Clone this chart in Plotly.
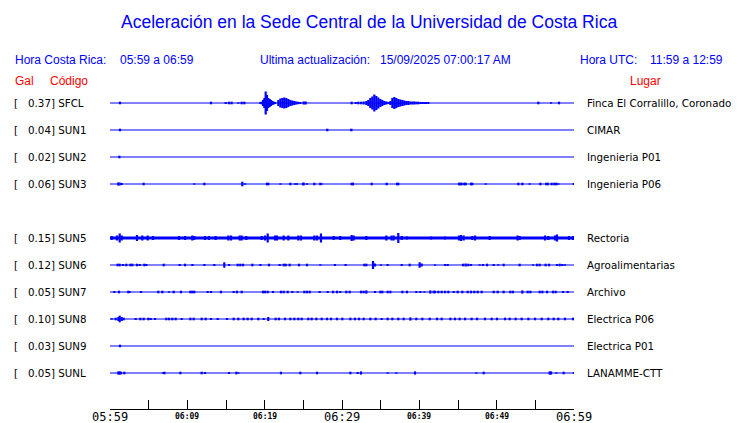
import plotly.graph_objects as go

# ---------------- data ----------------
TITLE = "Aceleración en la Sede Central de la Universidad de Costa Rica"
HORA_CR = "05:59 a 06:59"
HORA_UTC = "11:59 a 12:59"
ACTUALIZACION = "15/09/2025 07:00:17 AM"

# time axis: minutes after 05:59
SPAN_MIN = 60
TICK_STEP_MIN = 5
TICK_MIN = [0, 10, 20, 30, 40, 50, 60]
TICK_TEXT = ["05:59", "06:09", "06:19", "06:29", "06:39", "06:49", "06:59"]
TICK_MAJOR = [True, False, False, True, False, False, True]

CODES = ["SFCL", "SUN1", "SUN2", "SUN3", "SUN4", "SUN5", "SUN6", "SUN7", "SUN8", "SUN9", "SUNL"]
PGA_GAL = [0.37, 0.04, 0.02, 0.06, None, 0.15, 0.12, 0.05, 0.10, 0.03, 0.05]
LUGAR = ["Finca El Corralillo, Coronado", "CIMAR", "Ingenieria P01", "Ingenieria P06", None,
         "Rectoria", "Agroalimentarias", "Archivo", "Electrica P06", "Electrica P01", "LANAMME-CTT"]
# background noise level (relative amplitude)
NOISE = [0.4, 0.4, 0.4, 0.4, None, 1.5, 0.4, 0.4, 0.4, 0.4, 0.4]

# (minute, relative amplitude) of trace excursions
SFCL = [(1.29, 1.3), (13.06, 1.3), (14.96, 1), (15.39, 1.3), (15.73, 1.3), (16.59, 0.7), (17.03, 1.3),
        (17.37, 1.3), (19.44, 1), (19.61, 1.3),
        (19.78, 3), (19.96, 5), (20.13, 11.5), (20.30, 8), (20.47, 5), (20.65, 4), (20.82, 3), (20.99, 2),
        (21.16, 1.5), (21.34, 1),
        (21.77, 3), (22.03, 4.5), (22.29, 5), (22.54, 5.5), (22.80, 5), (23.06, 4), (23.32, 3), (23.58, 2.5),
        (23.84, 2), (24.09, 1.5), (24.35, 1.2), (24.61, 1), (25.04, 1.5), (25.30, 1.5),
        (31.25, 1.3), (31.77, 1), (32.11, 1.3), (32.46, 1.3), (32.80, 1.5), (33.15, 2),
        (33.40, 3), (33.66, 5), (33.92, 6.5), (34.18, 8.5), (34.44, 7), (34.70, 5.5), (34.96, 4), (35.21, 3),
        (35.47, 2), (35.73, 1.5), (35.99, 1),
        (36.25, 2), (36.51, 5), (36.77, 6), (37.02, 5), (37.28, 4), (37.54, 3.5), (37.80, 3), (38.06, 2.5),
        (38.32, 2), (38.58, 2), (38.84, 1.5), (39.10, 1.5), (39.35, 1.5), (39.61, 1.3), (39.87, 1.3),
        (40.13, 1), (40.39, 1), (40.65, 1), (40.90, 1), (41.16, 1),
        (55.39, 1.3), (57.03, 0.7), (58.06, 1.3)]
SUN1 = [(1.29, 1.3), (28.10, 1.3), (31.21, 1.3)]
SUN2 = [(1.21, 1.3)]
SUN3 = [(1.08, 1.7), (1.34, 1.3), (1.51, 1.0), (4.35, 1.3), (10.90, 0.7), (12.20, 1.3), (17.11, 2.3),
        (17.46, 0.7), (20.30, 1.3), (20.47, 1.3), (22.03, 0.7), (23.32, 1.3), (23.92, 0.7), (24.18, 0.7),
        (24.96, 1.3), (25.05, 1.3), (25.47, 0.7), (26.42, 1.3), (27.20, 1.3), (27.37, 0.7), (31.25, 1.3),
        (31.42, 1.3), (33.84, 1.3), (35.77, 1.3), (37.11, 1.3), (37.28, 1.3), (45.13, 1.3), (45.30, 1.3),
        (45.47, 1.3), (45.82, 1.3), (45.99, 1.3), (46.68, 1.3), (46.85, 1.3), (48.58, 0.7), (52.80, 1.3),
        (53.32, 1.3), (54.27, 0.7), (55.65, 1.3), (56.42, 1.3), (56.60, 1.3), (57.11, 1.3), (57.46, 1.3),
        (57.72, 1.3), (57.97, 0.7), (59.96, 1.0)]
SUN4 = []
SUN5 = [(0.22, 2), (0.90, 2.5), (1.25, 4.5), (1.51, 2.5), (3.49, 3), (4.18, 2.5), (4.87, 2.5), (5.56, 2),
        (8.92, 2), (9.70, 2), (10.65, 2.5), (10.90, 2), (12.28, 2), (12.80, 2), (13.66, 2), (15.30, 2.5),
        (15.65, 2.5), (16.77, 2.5), (17.03, 2.5), (17.63, 2), (19.61, 2), (20.04, 2.5), (20.39, 4.5),
        (21.34, 2.5), (21.59, 2.5), (22.46, 2.5), (23.06, 2.5), (24.35, 2.5), (24.70, 2.5), (26.42, 2.5),
        (26.77, 2.5), (27.28, 4.5), (28.92, 2), (29.78, 2), (31.25, 3), (31.51, 2.5), (33.15, 2),
        (35.73, 2.5), (36.42, 2.5), (36.68, 2.5), (37.28, 5), (37.72, 2), (38.40, 1.5), (41.51, 1.5),
        (43.32, 1.5), (45.13, 2.5), (45.39, 3), (45.73, 2.5), (46.85, 2), (47.20, 2.5), (49.09, 2),
        (52.71, 2.5), (52.97, 2), (56.25, 2.5), (56.68, 2), (57.54, 2.5), (57.80, 3.5), (59.35, 2),
        (59.87, 2)]
SUN6 = [(0.99, 1.3), (1.25, 1.3), (1.68, 1), (2.11, 1.3), (2.63, 1.3), (2.89, 1.3), (3.49, 1.3), (3.84, 1),
        (4.44, 1.3), (4.70, 1), (6.94, 1.3), (9.01, 1), (9.70, 1.3), (10.65, 1), (12.20, 1), (13.49, 1),
        (14.78, 2.7), (15.39, 1), (16.51, 1.3), (16.85, 1.3), (17.20, 1.3), (18.41, 1.3), (19.44, 1),
        (20.56, 1.3), (21.94, 1), (22.46, 1.3), (22.72, 1.3), (23.23, 1.3), (24.44, 1.3), (25.47, 1.3),
        (27.20, 0.7), (29.09, 1), (30.47, 1), (32.89, 1.3), (33.15, 1.3), (34.01, 4), (34.27, 1.5),
        (35.04, 0.7), (35.90, 1), (37.72, 1), (38.75, 1.3), (40.04, 2.7), (40.30, 1.5), (42.03, 0.7),
        (43.32, 1), (43.66, 1), (45.65, 1.3), (45.99, 1.5), (46.33, 1.3), (46.68, 1), (47.80, 0.7),
        (48.23, 1), (48.75, 1.3), (49.61, 1), (50.21, 0.7), (50.90, 1.3), (52.97, 1.3), (54.70, 0.7),
        (55.22, 1.3), (55.56, 1.3), (56.33, 1.3), (56.77, 1.3), (57.80, 1), (58.15, 1.3), (58.49, 1),
        (58.83, 0.7)]
SUN7 = [(0.56, 1), (1.16, 1.3), (2.37, 1.3), (2.54, 1), (4.01, 1), (6.25, 1.3), (6.77, 1.3), (7.63, 0.7),
        (8.23, 1.3), (9.18, 1.3), (10.39, 1.3), (10.65, 1.3), (10.90, 1.3), (12.63, 1), (13.06, 1),
        (14.35, 1.3), (15.99, 1), (16.42, 1.3), (17.03, 1.3), (19.78, 1.3), (20.04, 1.3), (20.39, 1.3),
        (21.08, 1), (22.11, 1.3), (22.46, 1.3), (22.97, 1.3), (23.58, 1), (24.27, 0.7), (25.13, 1.3),
        (25.47, 1.3), (25.82, 1.3), (27.11, 1), (28.15, 1), (28.84, 1.3), (29.35, 1.3), (29.78, 1),
        (30.56, 1.3), (30.99, 1.3), (32.46, 1.3), (32.80, 1.3), (33.15, 1.6), (34.27, 1), (34.96, 1.3),
        (35.21, 1.3), (35.90, 1.3), (36.25, 1.3), (37.80, 1.3), (38.40, 1.3), (39.61, 1), (40.13, 1),
        (40.65, 0.7), (41.42, 1.6), (41.85, 1.3), (42.03, 1.3), (42.46, 1.3), (42.89, 1.3), (43.32, 1.3),
        (43.75, 1.3), (44.44, 1), (44.96, 1.3), (45.56, 1.3), (46.25, 1.3), (46.68, 1.3), (47.11, 1.3),
        (47.54, 1.3), (48.06, 1.3), (49.61, 1.3), (50.13, 1.3), (50.90, 1.3), (51.77, 1.3), (52.11, 1.3),
        (53.32, 1.6), (54.01, 1.3), (54.35, 1.3), (55.56, 1.3), (55.91, 1.3), (56.51, 1.3), (57.28, 1.3),
        (57.63, 1.3), (58.58, 1), (59.18, 1)]
SUN8 = [(0.22, 0.7), (0.73, 1.3), (1.08, 2), (1.25, 3.3), (1.51, 2), (1.77, 1.3), (3.32, 1), (3.92, 1.3),
        (4.35, 1.3), (4.96, 1.3), (5.26, 1), (5.82, 1), (7.28, 1.3), (7.63, 1.3), (8.06, 1.3), (8.49, 1.3),
        (9.27, 1), (10.39, 1.3), (10.82, 1.3), (11.85, 1.3), (12.37, 1.3), (13.06, 1), (13.92, 1),
        (15.13, 1), (15.99, 1.3), (16.59, 1.3), (17.28, 1.3), (17.80, 1.3), (18.32, 1.3), (19.18, 1.3),
        (19.87, 1), (20.47, 2), (21.42, 1.3), (21.85, 1.3), (22.63, 1.3), (23.32, 1.3), (23.84, 1.3),
        (24.35, 1.3), (24.78, 1.3), (25.64, 1.3), (26.08, 1.3), (26.68, 1.3), (27.37, 1.3), (28.06, 1.3),
        (28.58, 1.3), (29.35, 1.3), (30.04, 1.3), (31.08, 1.3), (31.68, 1.3), (32.20, 1.3), (32.80, 1.3),
        (33.66, 1.3), (34.35, 1.3), (35.13, 1), (35.90, 1.3), (36.51, 1.3), (37.28, 1.3), (37.97, 1.3),
        (38.84, 1.6), (39.61, 1.3), (40.39, 1.3), (41.34, 1.3), (42.29, 1.3), (42.89, 1.3), (44.01, 1.3),
        (44.61, 1.3), (45.21, 1.3), (45.91, 1.3), (46.76, 1.3), (47.46, 1.3), (48.49, 1.3), (49.35, 1.3),
        (50.04, 1.3), (51.08, 1.3), (51.68, 1.3), (52.45, 1.3), (53.23, 1.3), (54.10, 1.3), (54.96, 1.3),
        (55.82, 1.3), (56.68, 1.3), (57.37, 1.3), (57.97, 1.3), (58.83, 1.3), (59.87, 1.3)]
SUN9 = [(1.29, 1.3)]
SUNL = [(1.08, 1.6), (1.25, 1.6), (1.42, 1.3), (1.85, 1.3), (6.85, 0.7), (7.03, 1.3), (9.10, 1.3),
        (11.85, 1.3), (12.28, 1), (15.39, 1), (16.34, 1.3), (16.59, 0.7), (22.11, 1.3), (24.61, 1.3),
        (26.77, 1.3), (31.08, 1.3), (32.03, 1), (32.46, 1.6), (35.90, 0.7), (37.02, 0.7), (39.44, 1.6),
        (47.37, 0.7), (48.32, 1.3), (56.85, 1.6), (57.03, 1.6), (57.72, 0.7), (58.66, 1.3), (59.99, 1)]

TRACES = [SFCL, SUN1, SUN2, SUN3, SUN4, SUN5, SUN6, SUN7, SUN8, SUN9, SUNL]

# ---------------- layout geometry ----------------
W, H = 740, 423
PL, PR, PT, PB = 110, 574, 90, 409     # plot area in pixels
ROW0, ROWSTEP = 103, 27                # first trace baseline and spacing (px)
AMP = 1.0 / ROWSTEP                    # relative amplitude -> row units

BLUE = "#0000ff"
RED = "#ff0000"


def px(x):
    return (x - PL) / (PR - PL)


def py(y):
    return (PB - y) / (PB - PT)


fig = go.Figure()

for i, (code, noise, ev) in enumerate(zip(CODES, NOISE, TRACES)):
    if noise is None:
        continue
    base = -i
    fig.add_trace(go.Scatter(
        x=[0, SPAN_MIN], y=[base, base], mode="lines",
        line=dict(color=BLUE, width=max(1.0, 2 * noise)),
        hoverinfo="skip", showlegend=False))
    xs, ys = [], []
    for t, a in ev:
        xs += [t, t, None]
        ys += [base + a * AMP, base - a * AMP, None]
    if xs:
        fig.add_trace(go.Scatter(
            x=xs, y=ys, mode="lines", line=dict(color=BLUE, width=2.2),
            hoverinfo="skip", showlegend=False, connectgaps=False))

ann = []


def text(x, y, s, size, color, family, xanchor="left", xref="paper"):
    ann.append(dict(x=x, y=y, xref=xref, yref="paper", text=s, showarrow=False,
                    xanchor=xanchor, yanchor="middle", borderpad=0, borderwidth=0,
                    font=dict(size=size, color=color, family=family)))


SANS = "Liberation Sans, Arial"
DJ = "DejaVu Sans"

text(px(368.5), py(22.5), TITLE, 17.5, BLUE, SANS, "center")
hy = py(60.5)
text(px(14.5), hy, "Hora Costa Rica:", 12, BLUE, SANS)
text(px(120), hy, HORA_CR, 12, BLUE, SANS)
text(px(259.5), hy, "Ultima actualización:", 12, BLUE, SANS)
text(px(379.5), hy, ACTUALIZACION, 12, BLUE, SANS)
text(px(580), hy, "Hora UTC:", 12, BLUE, SANS)
text(px(650), hy, HORA_UTC, 12, BLUE, SANS)
ry = py(80.5)
text(px(14.5), ry, "Gal", 12, RED, SANS)
text(px(50), ry, "Código", 12, RED, SANS)
text(px(629.5), ry, "Lugar", 12, RED, SANS)

for i, (code, pga, lugar) in enumerate(zip(CODES, PGA_GAL, LUGAR)):
    if pga is None:
        continue
    yy = py(ROW0 + i * ROWSTEP)
    text(px(14), yy, "[", 10.3, "black", DJ)
    text(px(27.5), yy, f"{pga:.2f}] {code}", 10.3, "black", DJ)
    text(px(586.5), yy, lugar, 10.3, "black", DJ)

LABEL_Y = py(416.5)
for t, lab, major in zip(TICK_MIN, TICK_TEXT, TICK_MAJOR):
    if major:
        ann.append(dict(x=t, y=LABEL_Y, xref="x", yref="paper", text=lab, showarrow=False,
                        xanchor="center", yanchor="middle", borderpad=0, borderwidth=0,
                        font=dict(size=12, color="black", family="DejaVu Sans Mono")))
    else:
        ann.append(dict(x=t, y=LABEL_Y, xref="x", yref="paper", text=f"<b>{lab}</b>",
                        showarrow=False, xanchor="center", yanchor="middle", borderpad=0,
                        borderwidth=0,
                        font=dict(size=8, color="black", family="DejaVu Sans Mono")))

fig.update_layout(
    width=W, height=H, autosize=False,
    margin=dict(l=PL, r=W - PR, t=PT, b=H - PB, pad=0),
    paper_bgcolor="white", plot_bgcolor="white",
    showlegend=False, annotations=ann,
    xaxis=dict(range=[0, SPAN_MIN], showgrid=False, zeroline=False, showline=True,
               linecolor="black", linewidth=1, ticks="inside", ticklen=9, tickwidth=1,
               tickcolor="black", tick0=0, dtick=TICK_STEP_MIN, showticklabels=False,
               fixedrange=True),
    yaxis=dict(range=[-(PB - ROW0) / ROWSTEP, (ROW0 - PT) / ROWSTEP], showgrid=False,
               zeroline=False, showline=False, showticklabels=False, ticks="",
               fixedrange=True),
)

fig.write_html(
    "out.html",
    config={"displayModeBar": False, "staticPlot": True},
    post_script="document.body.style.margin='0';document.body.style.overflow='hidden';",
)
